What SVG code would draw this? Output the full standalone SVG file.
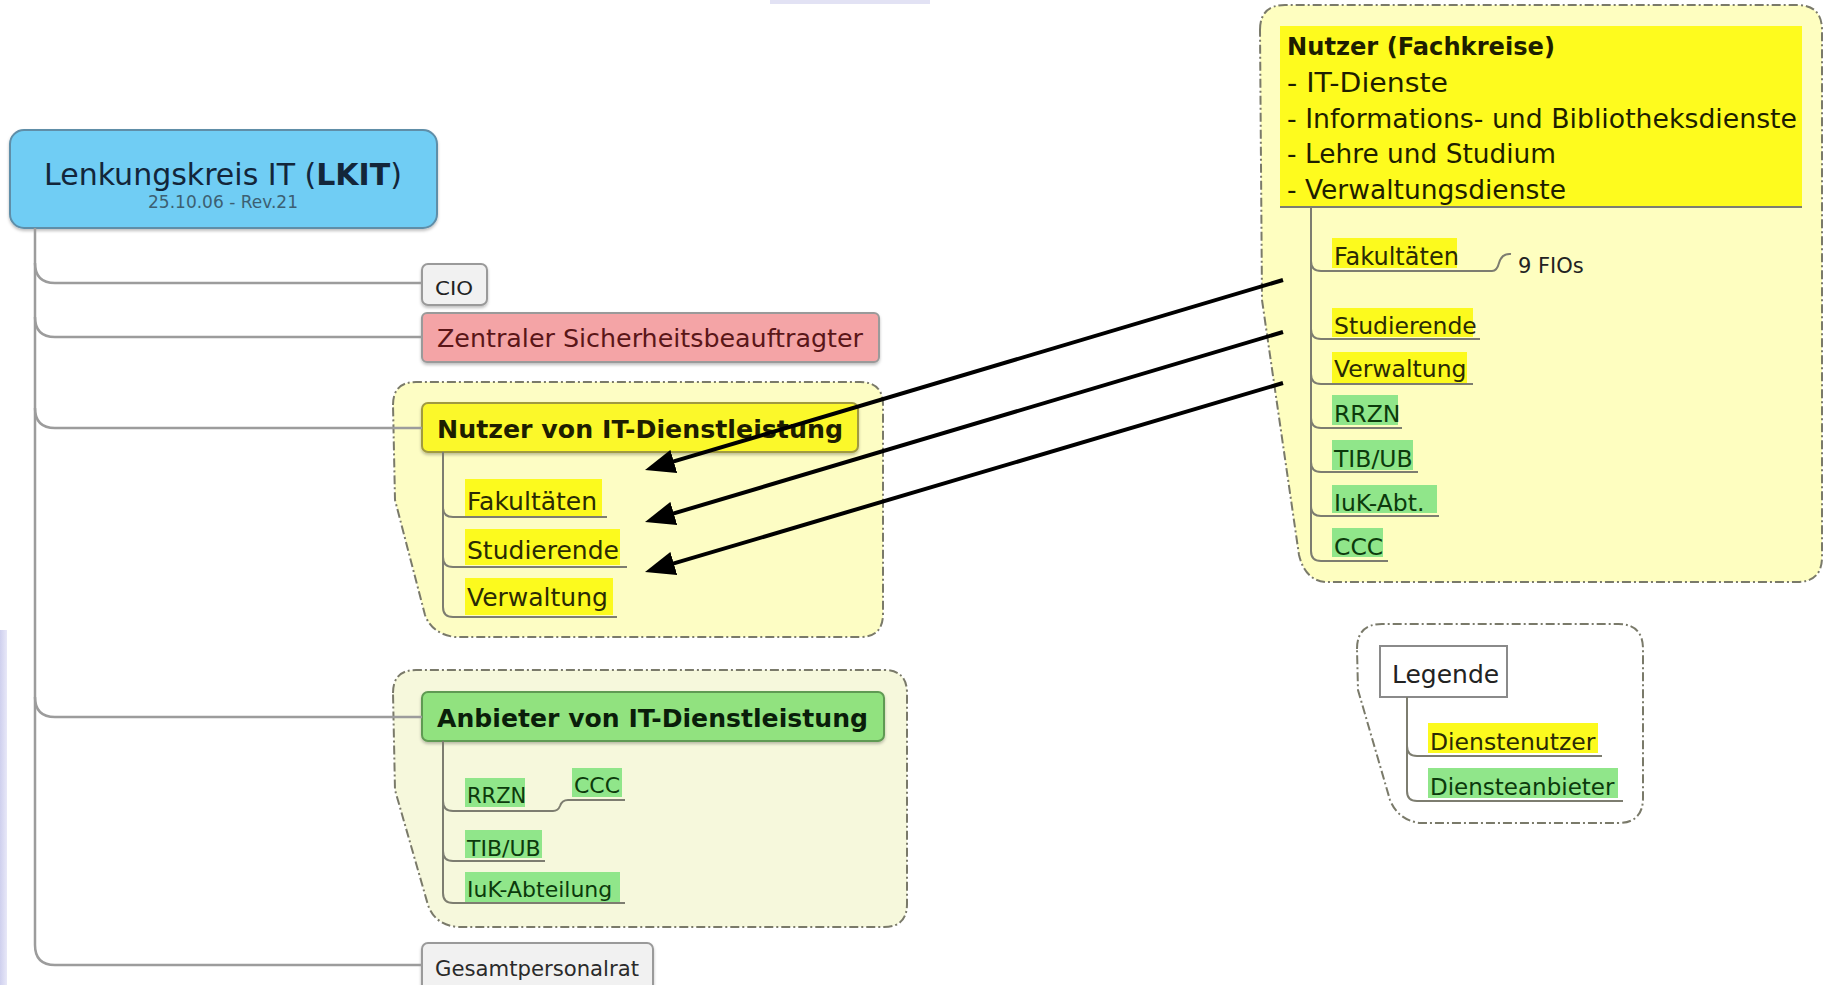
<svg xmlns="http://www.w3.org/2000/svg" width="1824" height="985" viewBox="0 0 1824 985">
<style>
text{font-family:"DejaVu Sans","Liberation Sans",sans-serif;}
.box{stroke:#9a9a9a;stroke-width:2;}
.grp{stroke:#7a7a6a;stroke-width:2;stroke-dasharray:9 3 2 3;}
.line{fill:none;stroke:#9c9c9c;stroke-width:2.5;}
.ul{fill:none;stroke:#7d7d70;stroke-width:2;}
.hy{fill:#fcfa1e;}
.hg{fill:#90e68a;}
.ty{fill:#2a2a05;}
.tg{fill:#0c3a0c;}
.arrow{fill:none;stroke:#000;stroke-width:4;}
</style>
<defs>
<marker id="ah" markerUnits="userSpaceOnUse" markerWidth="30" markerHeight="24" refX="22" refY="12" orient="auto">
<path d="M0,0 L30,12 L0,24 Z" fill="#000"/>
</marker>
<filter id="sh" x="-5%" y="-10%" width="110%" height="130%">
<feDropShadow dx="0" dy="2" stdDeviation="1.5" flood-color="#000" flood-opacity="0.25"/>
</filter>
<linearGradient id="lav" x1="0" y1="0" x2="1" y2="0">
<stop offset="0" stop-color="#cfd0ee"/>
<stop offset="1" stop-color="#e8e8f8"/>
</linearGradient>
</defs>
<rect x="0" y="0" width="1824" height="985" fill="#ffffff"/>
<rect x="0" y="630" width="7" height="355" fill="url(#lav)"/>
<rect x="770" y="0" width="160" height="4" fill="#e2e2f4"/>

<g id="group-nutzer">
<path class="grp" fill="#fdfdc4" d="M393,405 Q393,382 416,382 H860 Q883,382 883,405 V614 Q883,637 860,637 H455 Q432,634 425,615 L395,500 Z"/>
</g>
<g id="group-anbieter">
<path class="grp" fill="#f6f8dc" d="M393,693 Q393,670 416,670 H884 Q907,670 907,693 V904 Q907,927 884,927 H458 Q435,925 428,905 L395,790 Z"/>
</g>
<g id="group-fachkreise">
<path class="grp" fill="#fefec0" d="M1260,30 Q1260,5 1285,5 H1797 Q1822,5 1822,30 V557 Q1822,582 1797,582 H1325 Q1305,580 1299,555 L1262,300 Z"/>
</g>
<g id="group-legende">
<path class="grp" fill="#ffffff" d="M1357,649 Q1357,624 1382,624 H1618 Q1643,624 1643,649 V798 Q1643,823 1618,823 H1420 Q1398,820 1390,800 L1358,690 Z"/>
</g>

<g id="lkit">
<rect x="10" y="130" width="427" height="98" rx="14" fill="#6fcdf4" stroke="#5f8ea8" stroke-width="2" filter="url(#sh)"/>
<text x="223" y="185" font-size="30" fill="#13263a" text-anchor="middle">Lenkungskreis IT (<tspan font-weight="bold">LKIT</tspan>)</text>
<text x="223" y="208" font-size="17" fill="#3c5f72" text-anchor="middle">25.10.06 - Rev.21</text>
</g>
<g id="cio">
<rect class="box" x="422" y="264" width="65" height="41" rx="6" fill="#f1f1f1" filter="url(#sh)"/>
<text x="435" y="295" font-size="20" fill="#222" textLength="38" lengthAdjust="spacingAndGlyphs">CIO</text>
</g>
<g id="zsb">
<rect class="box" x="422" y="313" width="457" height="49" rx="5" fill="#f4a4a6" filter="url(#sh)"/>
<text x="437" y="347" font-size="25" fill="#5a1618" textLength="426" lengthAdjust="spacingAndGlyphs">Zentraler Sicherheitsbeauftragter</text>
</g>
<g id="nutzer">
<rect x="422" y="403" width="436" height="49" rx="6" fill="#fbf82a" stroke="#a09a40" stroke-width="2" filter="url(#sh)"/>
<text x="437" y="438" font-size="25" font-weight="bold" fill="#1e1e00" textLength="406" lengthAdjust="spacingAndGlyphs">Nutzer von IT-Dienstleistung</text>
</g>
<g id="n-fakultaeten">
<rect class="hy" x="465" y="479" width="137" height="38"/>
<text class="ty" x="467" y="510" font-size="25">Fakultäten</text>
</g>
<g id="n-studierende">
<rect class="hy" x="465" y="529" width="155" height="36"/>
<text class="ty" x="467" y="559" font-size="25">Studierende</text>
</g>
<g id="n-verwaltung">
<rect class="hy" x="465" y="578" width="148" height="37"/>
<text class="ty" x="467" y="606" font-size="25">Verwaltung</text>
</g>
<g id="anbieter">
<rect x="422" y="692" width="462" height="49" rx="6" fill="#91e27f" stroke="#5f9a52" stroke-width="2" filter="url(#sh)"/>
<text x="437" y="727" font-size="25" font-weight="bold" fill="#0a1e0a" textLength="431" lengthAdjust="spacingAndGlyphs">Anbieter von IT-Dienstleistung</text>
</g>
<g id="a-rrzn">
<rect class="hg" x="465" y="778" width="60" height="29"/>
<text class="tg" x="467" y="803" font-size="21">RRZN</text>
</g>
<g id="a-ccc">
<rect class="hg" x="572" y="768" width="50" height="29"/>
<text class="tg" x="574" y="793" font-size="22">CCC</text>
</g>
<g id="a-tib">
<rect class="hg" x="465" y="830" width="77" height="28"/>
<text class="tg" x="467" y="856" font-size="22">TIB/UB</text>
</g>
<g id="a-iuk">
<rect class="hg" x="465" y="872" width="155" height="30"/>
<text class="tg" x="467" y="897" font-size="22">IuK-Abteilung</text>
</g>
<g id="gpr">
<rect class="box" x="422" y="943" width="231" height="52" rx="6" fill="#f1f1f1" filter="url(#sh)"/>
<text x="435" y="976" font-size="21" fill="#2a2a2a" textLength="204" lengthAdjust="spacingAndGlyphs">Gesamtpersonalrat</text>
</g>

<g id="fachkreise">
<rect x="1280" y="26" width="522" height="181" fill="#fefb1e"/>
<text x="1287" y="55" font-size="25" font-weight="bold" fill="#1e1e00" textLength="268" lengthAdjust="spacingAndGlyphs">Nutzer (Fachkreise)</text>
<text x="1287" y="92" font-size="26" fill="#1e1e00" textLength="161" lengthAdjust="spacingAndGlyphs">- IT-Dienste</text>
<text x="1287" y="128" font-size="26" fill="#1e1e00" textLength="510" lengthAdjust="spacingAndGlyphs">- Informations- und Bibliotheksdienste</text>
<text x="1287" y="163" font-size="26" fill="#1e1e00" textLength="269" lengthAdjust="spacingAndGlyphs">- Lehre und Studium</text>
<text x="1287" y="199" font-size="26" fill="#1e1e00" textLength="279" lengthAdjust="spacingAndGlyphs">- Verwaltungsdienste</text>
</g>
<g id="f-fakultaeten">
<rect class="hy" x="1332" y="238" width="125" height="30"/>
<text class="ty" x="1334" y="265" font-size="24">Fakultäten</text>
</g>
<g id="f-fios">
<text x="1518" y="273" font-size="21" fill="#222">9 FIOs</text>
</g>
<g id="f-studierende">
<rect class="hy" x="1332" y="308" width="141" height="29"/>
<text class="ty" x="1334" y="334" font-size="23.5">Studierende</text>
</g>
<g id="f-verwaltung">
<rect class="hy" x="1332" y="352" width="135" height="31"/>
<text class="ty" x="1334" y="377" font-size="23.5">Verwaltung</text>
</g>
<g id="f-rrzn">
<rect class="hg" x="1332" y="395" width="66" height="30"/>
<text class="tg" x="1334" y="422" font-size="23.5">RRZN</text>
</g>
<g id="f-tib">
<rect class="hg" x="1332" y="440" width="81" height="30"/>
<text class="tg" x="1334" y="467" font-size="23.5">TIB/UB</text>
</g>
<g id="f-iuk">
<rect class="hg" x="1332" y="485" width="105" height="28"/>
<text class="tg" x="1334" y="511" font-size="23.5">IuK-Abt.</text>
</g>
<g id="f-ccc">
<rect class="hg" x="1332" y="528" width="51" height="29"/>
<text class="tg" x="1334" y="555" font-size="23.5">CCC</text>
</g>

<g id="legende">
<rect x="1380" y="646" width="127" height="51" fill="#ffffff" stroke="#8a8a8a" stroke-width="2"/>
<text x="1392" y="683" font-size="25" fill="#222">Legende</text>
</g>
<g id="l-nutzer">
<rect class="hy" x="1428" y="723" width="170" height="30"/>
<text class="ty" x="1430" y="750" font-size="23.5">Dienstenutzer</text>
</g>
<g id="l-anbieter">
<rect class="hg" x="1428" y="768" width="190" height="30"/>
<text class="tg" x="1430" y="795" font-size="23">Diensteanbieter</text>
</g>

<g id="connectors">
<path class="line" d="M35,228 V945 Q35,965 55,965 H422"/>
<path class="line" d="M35,263 Q35,283 55,283 H422"/>
<path class="line" d="M35,317 Q35,337 55,337 H422"/>
<path class="line" d="M35,408 Q35,428 55,428 H422"/>
<path class="line" d="M35,697 Q35,717 55,717 H422"/>
<path class="ul" d="M443,452 V507 Q443,517 453,517 H607"/>
<path class="ul" d="M443,507 V557 Q443,567 453,567 H627"/>
<path class="ul" d="M443,557 V607 Q443,617 453,617 H617"/>
<path class="ul" d="M443,741 V801 Q443,811 453,811 H553 Q558,811 560,806 Q562,800 568,800 H625"/>
<path class="ul" d="M443,801 V851 Q443,861 453,861 H545"/>
<path class="ul" d="M443,851 V893 Q443,903 453,903 H625"/>
<path class="ul" d="M1280,207 H1802"/>
<path class="ul" d="M1311,207 V261 Q1311,271 1321,271 H1492 Q1497,271 1499,263 Q1502,253 1511,254"/>
<path class="ul" d="M1311,261 V329 Q1311,339 1321,339 H1480"/>
<path class="ul" d="M1311,329 V374 Q1311,384 1321,384 H1473"/>
<path class="ul" d="M1311,374 V418 Q1311,428 1321,428 H1402"/>
<path class="ul" d="M1311,418 V462 Q1311,472 1321,472 H1418"/>
<path class="ul" d="M1311,462 V506 Q1311,516 1321,516 H1439"/>
<path class="ul" d="M1311,506 V551 Q1311,561 1321,561 H1388"/>
<path class="ul" d="M1407,697 V746 Q1407,756 1417,756 H1602"/>
<path class="ul" d="M1407,746 V791 Q1407,801 1417,801 H1623"/>
<path class="arrow" marker-end="url(#ah)" d="M1283,280 L652.7,467.7"/>
<path class="arrow" marker-end="url(#ah)" d="M1283,332 L652.7,519.7"/>
<path class="arrow" marker-end="url(#ah)" d="M1283,383 L652.7,569.7"/>
</g>
</svg>
